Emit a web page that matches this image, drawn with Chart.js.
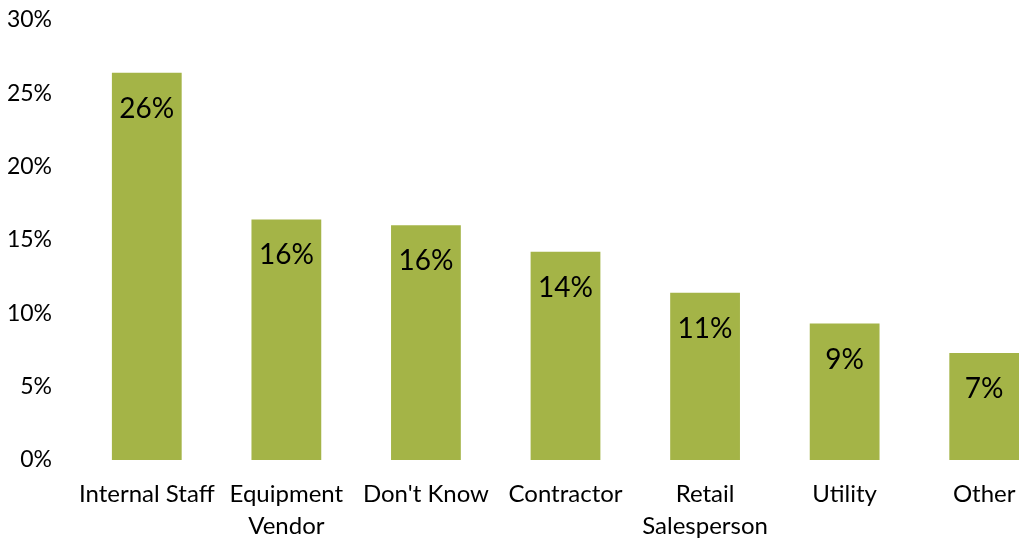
<!DOCTYPE html>
<html>
<head>
<meta charset="utf-8">
<script src="https://cdn.jsdelivr.net/npm/chart.js@4/dist/chart.umd.min.js"></script>
<style>
  html, body { margin: 0; padding: 0; background: #fff; overflow: hidden; }
  #wrap { width: 1060px; height: 543px; }
</style>
</head>
<body>
<div id="wrap"><canvas id="chart" width="1060" height="543"></canvas></div>
<script>
const categories = [['Internal Staff'], ['Equipment', 'Vendor'], ["Don't Know"], ['Contractor'], ['Retail', 'Salesperson'], ['Utility'], ['Other']];
const shares = [26.4, 16.4, 16.0, 14.2, 11.4, 9.3, 7.3];
const yTicks = [0, 5, 10, 15, 20, 25, 30];

const barColor = '#a4b447';
const fontFamily = 'Lato, "Open Sans", sans-serif';

// draws the rounded value inside each bar, near its top
const valueLabels = {
    id: 'valueLabels',
    afterDatasetsDraw(chart) {
        const ctx = chart.ctx;
        const meta = chart.getDatasetMeta(0);
        ctx.save();
        ctx.font = `28px ${fontFamily}`;
        ctx.fillStyle = '#000';
        ctx.textAlign = 'center';
        ctx.textBaseline = 'middle';
        meta.data.forEach((bar, i) => {
            ctx.fillText(Math.round(shares[i]) + '%', bar.x, bar.y + 36);
        });
        ctx.restore();
    }
};

new Chart(document.getElementById('chart'), {
    type: 'bar',
    data: {
        labels: categories,
        datasets: [{
            data: shares,
            backgroundColor: barColor,
            barPercentage: 0.5,
            categoryPercentage: 1.0
        }]
    },
    options: {
        responsive: false,
        animation: false,
        layout: { padding: { top: 20, left: 0, right: 6 } },
        plugins: {
            legend: { display: false },
            tooltip: { enabled: false }
        },
        scales: {
            x: {
                grid: { display: false, drawTicks: false },
                border: { display: false },
                ticks: {
                    color: '#000',
                    font: { family: fontFamily, size: 24, lineHeight: 1.33 },
                    padding: 18,
                    maxRotation: 0,
                    autoSkip: false
                },
                afterFit: (scale) => { scale.height = 83; }
            },
            y: {
                min: 0,
                max: 30,
                afterBuildTicks: (scale) => { scale.ticks = yTicks.map(v => ({ value: v })); },
                grid: { display: false, drawTicks: false },
                border: { display: false },
                ticks: {
                    color: '#000',
                    font: { family: fontFamily, size: 23 },
                    padding: 25,
                    callback: (v) => v + '%'
                },
                afterFit: (scale) => {
                    scale.width = 77;
                    // tick padding would otherwise push the plot area down
                    scale.paddingTop = 0;
                    scale.paddingBottom = 0;
                }
            }
        }
    },
    plugins: [valueLabels]
});
</script>
</body>
</html>
